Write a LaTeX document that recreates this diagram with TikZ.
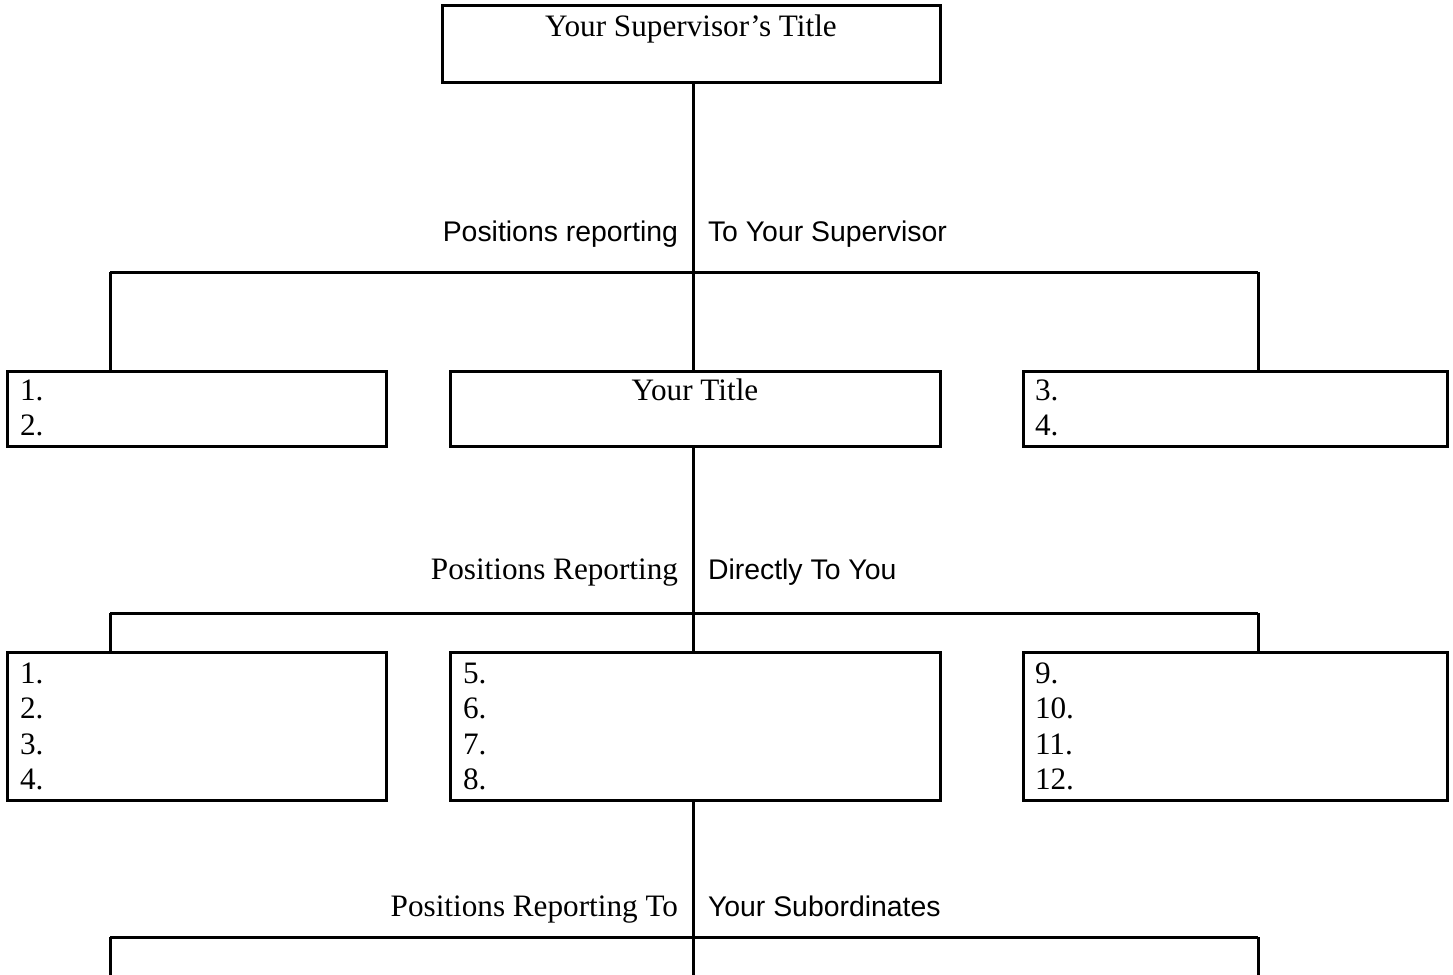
\documentclass[tikz,border=0pt]{standalone}
\usepackage{fontspec}
\setmainfont{Liberation Serif}
\setsansfont{Liberation Sans}
\tikzset{
  box/.style={draw, rectangle, line width=1.5pt, inner sep=0pt, outer sep=0pt, anchor=north west},
  conn/.style={line width=1.5pt},
  serif/.style={inner sep=0pt, outer sep=0pt, font=\fontsize{15.6}{18}\selectfont},
  sans/.style={inner sep=0pt, outer sep=0pt, font=\sffamily\fontsize{14.2}{17}\selectfont},
}
\begin{document}
\begin{tikzpicture}[x=0.5pt,y=-0.5pt]
\useasboundingbox (0,0) rectangle (1453,975);

% top box
\node[box, minimum width=249pt, minimum height=38.5pt] (sup) at (442,5) {};
\node[serif, anchor=base] (supt) at (691,36) {Your Supervisor’s Title};

% first level
\coordinate (h1) at (693,272);
\coordinate (h1l) at (110,272);
\coordinate (h1r) at (1258,272);
\draw[conn] (sup.south -| h1) -- (h1);
\draw[conn] (h1l) -- (h1r);
\node[sans, anchor=base east] (l1a) at (678,241) {Positions reporting};
\node[sans, anchor=base west] (l1b) at (708,241) {To Your Supervisor};

\node[box, minimum width=189.5pt, minimum height=37.5pt] (peerl) at (7,371) {};
\node[box, minimum width=245pt, minimum height=37.5pt] (you) at (450,371) {};
\node[box, minimum width=212pt, minimum height=37.5pt] (peerr) at (1023,371) {};
\draw[conn] (h1l) -- (h1l |- peerl.north);
\draw[conn] (h1) -- (h1 |- you.north);
\draw[conn] (h1r) -- (h1r |- peerr.north);

\node[serif, anchor=base west] (p1) at (20,400) {1.};
\node[serif, anchor=base west] (p2) at (20,435.5) {2.};
\node[serif, anchor=base] (yt) at (695,400) {Your Title};
\node[serif, anchor=base west] (p3) at (1035,400) {3.};
\node[serif, anchor=base west] (p4) at (1035,435.5) {4.};

% second level
\coordinate (h2) at (693,613);
\coordinate (h2l) at (110,613);
\coordinate (h2r) at (1258,613);
\draw[conn] (you.south -| h2) -- (h2);
\draw[conn] (h2l) -- (h2r);
\node[serif, anchor=base east] (l2a) at (678,579) {Positions Reporting};
\node[sans, anchor=base west] (l2b) at (708,579) {Directly To You};

\node[box, minimum width=189.5pt, minimum height=74pt] (subl) at (7,652) {};
\node[box, minimum width=245pt, minimum height=74pt] (subm) at (450,652) {};
\node[box, minimum width=212pt, minimum height=74pt] (subr) at (1023,652) {};
\draw[conn] (h2l) -- (h2l |- subl.north);
\draw[conn] (h2) -- (h2 |- subm.north);
\draw[conn] (h2r) -- (h2r |- subr.north);

\node[serif, anchor=base west] (s1) at (20,683) {1.};
\node[serif, anchor=base west] (s2) at (20,718.5) {2.};
\node[serif, anchor=base west] (s3) at (20,754) {3.};
\node[serif, anchor=base west] (s4) at (20,789.5) {4.};
\node[serif, anchor=base west] (s5) at (463,683) {5.};
\node[serif, anchor=base west] (s6) at (463,718.5) {6.};
\node[serif, anchor=base west] (s7) at (463,754) {7.};
\node[serif, anchor=base west] (s8) at (463,789.5) {8.};
\node[serif, anchor=base west] (s9) at (1035,683) {9.};
\node[serif, anchor=base west] (s10) at (1035,718.5) {10.};
\node[serif, anchor=base west] (s11) at (1035,754) {11.};
\node[serif, anchor=base west] (s12) at (1035,789.5) {12.};

% third level
\coordinate (h3) at (693,937);
\coordinate (h3l) at (110,937);
\coordinate (h3r) at (1258,937);
\coordinate (e3) at (693,976);
\coordinate (e3l) at (110,976);
\coordinate (e3r) at (1258,976);
\draw[conn] (subm.south -| h3) -- (h3);
\draw[conn] (h3l) -- (h3r);
\draw[conn] (h3l) -- (e3l);
\draw[conn] (h3) -- (e3);
\draw[conn] (h3r) -- (e3r);
\node[serif, anchor=base east] (l3a) at (678,916) {Positions Reporting To};
\node[sans, anchor=base west] (l3b) at (708,916) {Your Subordinates};
\end{tikzpicture}
\end{document}
